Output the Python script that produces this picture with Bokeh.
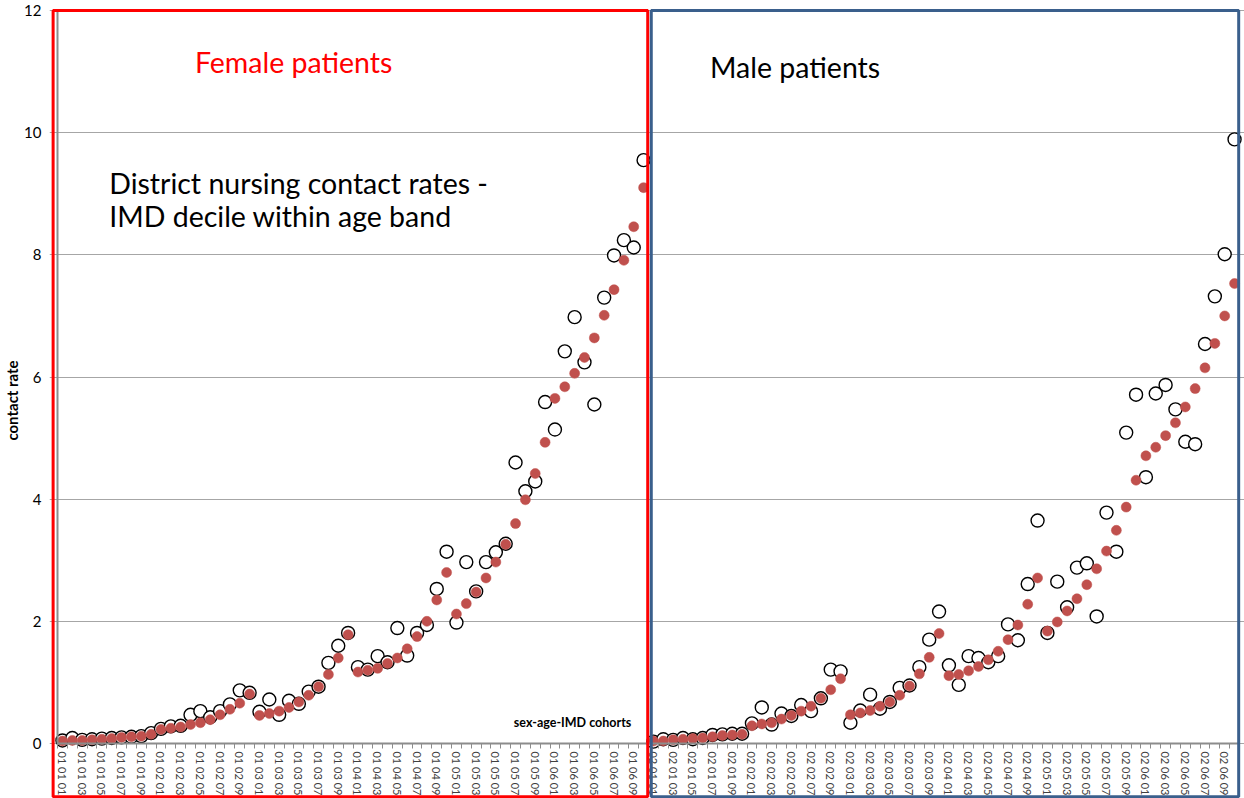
from bokeh.plotting import figure
from bokeh.models import (ColumnDataSource, FixedTicker, Label, BoxAnnotation, Range1d,
                          LinearAxis)
from bokeh.embed import file_html
from bokeh.resources import INLINE

# ---- data -------------------------------------------------------------
sexes = ["01", "02"]
age_bands = ["01", "02", "03", "04", "05", "06"]
deciles = ["01", "02", "03", "04", "05", "06", "07", "08", "09", "10"]
cohorts = [f"{s} {a} {d}" for s in sexes for a in age_bands for d in deciles]

observed_female = [
    0.05, 0.09, 0.06, 0.07, 0.08, 0.09, 0.10, 0.11, 0.12, 0.17,
    0.24, 0.28, 0.29, 0.47, 0.53, 0.43, 0.53, 0.64, 0.87, 0.83,
    0.52, 0.72, 0.47, 0.70, 0.65, 0.85, 0.93, 1.32, 1.60, 1.81,
    1.25, 1.21, 1.43, 1.33, 1.89, 1.44, 1.81, 1.94, 2.53, 3.14,
    1.98, 2.97, 2.49, 2.97, 3.13, 3.27, 4.60, 4.13, 4.29, 5.59,
    5.14, 6.42, 6.98, 6.24, 5.55, 7.30, 7.99, 8.24, 8.12, 9.55,
]
expected_female = [
    0.04, 0.05, 0.05, 0.06, 0.07, 0.08, 0.10, 0.11, 0.12, 0.15,
    0.23, 0.25, 0.27, 0.31, 0.34, 0.39, 0.47, 0.56, 0.66, 0.81,
    0.46, 0.49, 0.53, 0.59, 0.68, 0.79, 0.93, 1.13, 1.40, 1.78,
    1.17, 1.20, 1.23, 1.31, 1.40, 1.55, 1.75, 2.00, 2.35, 2.80,
    2.12, 2.29, 2.48, 2.71, 2.97, 3.26, 3.60, 3.99, 4.42, 4.93,
    5.65, 5.84, 6.06, 6.32, 6.64, 7.01, 7.43, 7.91, 8.46, 9.10,
]
observed_male = [
    0.03, 0.07, 0.06, 0.09, 0.07, 0.09, 0.14, 0.15, 0.16, 0.16,
    0.33, 0.59, 0.31, 0.49, 0.45, 0.63, 0.53, 0.74, 1.21, 1.18,
    0.34, 0.54, 0.80, 0.57, 0.68, 0.91, 0.95, 1.25, 1.70, 2.16,
    1.28, 0.96, 1.43, 1.40, 1.33, 1.43, 1.95, 1.69, 2.61, 3.65,
    1.81, 2.65, 2.23, 2.88, 2.95, 2.08, 3.78, 3.14, 5.09, 5.71,
    4.36, 5.73, 5.87, 5.47, 4.94, 4.90, 6.54, 7.32, 8.01, 9.89,
]
expected_male = [
    0.04, 0.04, 0.06, 0.07, 0.08, 0.09, 0.11, 0.13, 0.14, 0.15,
    0.29, 0.32, 0.34, 0.40, 0.46, 0.53, 0.61, 0.74, 0.88, 1.06,
    0.47, 0.50, 0.54, 0.61, 0.68, 0.79, 0.94, 1.14, 1.41, 1.80,
    1.11, 1.13, 1.19, 1.26, 1.37, 1.51, 1.70, 1.94, 2.28, 2.71,
    1.84, 1.99, 2.17, 2.37, 2.60, 2.86, 3.15, 3.49, 3.87, 4.31,
    4.71, 4.85, 5.04, 5.25, 5.51, 5.81, 6.15, 6.55, 7.00, 7.53,
]
y_ticks = [0, 2, 4, 6, 8, 10, 12]

observed = observed_female + observed_male
expected = expected_female + expected_male
idx = list(range(len(cohorts)))
n = len(cohorts)
source = ColumnDataSource(dict(x=idx, cohort=cohorts, observed=observed, expected=expected))

FONT = "Lato"

p = figure(
    width=1244, height=798,
    x_range=Range1d(-1.317, 120.01),
    y_range=Range1d(-0.9004, 12.131),
    output_backend="svg", toolbar_location=None,
    min_border_left=46, min_border_right=0, min_border_top=2, min_border_bottom=0,
)
p.outline_line_color = None
p.background_fill_color = "white"

# grid
p.xgrid.visible = False
p.ygrid.grid_line_color = "#a6a6a6"
p.ygrid.grid_line_width = 1

# y axis: tick labels and title in the left panel
yax = p.yaxis[0]
yax.bounds = (0, 12)
yax.ticker = FixedTicker(ticks=y_ticks)
yax.axis_line_color = None
yax.major_tick_out = 0
yax.major_tick_in = 0
yax.minor_tick_out = 0
yax.minor_tick_in = 0
yax.major_label_text_font = FONT
yax.major_label_text_font_size = "15px"
yax.major_label_text_color = "black"
yax.major_label_standoff = 8
yax.axis_label = "contact rate"
yax.axis_label_text_font = FONT
yax.axis_label_text_font_size = "15px"
yax.axis_label_text_font_style = "bold"
yax.axis_label_text_color = "black"
yax.axis_label_standoff = 0

# y axis line at the left edge of the first category
yline = LinearAxis(fixed_location=-0.5, bounds=(0, 12), ticker=FixedTicker(ticks=[]),
                   axis_line_color="#8c8c8c", axis_line_width=2,
                   major_tick_out=0, minor_tick_out=0, major_label_text_font_size="0px")
p.add_layout(yline, "left")

# x axis drawn at y = 0
xax = p.xaxis[0]
xax.fixed_location = 0
xax.bounds = (-0.5, n - 0.5)
label_ticks = [i for i in idx if int(cohorts[i][-2:]) % 2 == 1]
xax.ticker = FixedTicker(ticks=label_ticks, minor_ticks=[i - 0.5 for i in idx] + [n - 0.5])
xax.major_label_overrides = {i: cohorts[i] for i in label_ticks}
xax.major_label_orientation = "vertical"
xax.major_label_text_font = FONT
xax.major_label_text_font_size = "11px"
xax.major_label_text_color = "#404040"
xax.major_label_standoff = 3
xax.axis_line_color = "#8c8c8c"
xax.axis_line_width = 2
xax.major_tick_out = 0
xax.major_tick_in = 0
xax.minor_tick_out = 5
xax.minor_tick_in = 0
xax.minor_tick_line_color = "#8c8c8c"

# markers
p.scatter("x", "observed", source=source, marker="circle", size=13,
          fill_color="white", line_color="black", line_width=1.4)
p.scatter("x", "expected", source=source, marker="circle", size=10,
          fill_color="#c0504d", line_color="#c0504d", line_width=0.5)

# frames around female / male halves
p.add_layout(BoxAnnotation(left=-0.95, right=59.42, top=12, bottom=-0.87,
                           fill_color=None, fill_alpha=0, line_color="#ff0000",
                           line_alpha=1.0, line_width=3, level="overlay"))
p.add_layout(BoxAnnotation(left=59.78, right=119.42, top=12, bottom=-0.87,
                           fill_color=None, fill_alpha=0, line_color="#3a5f8c",
                           line_alpha=1.0, line_width=3, level="overlay"))

# texts
p.add_layout(Label(x=13.45, y=11.16, text="Female patients", text_font=FONT,
                   text_font_size="28.5px", text_color="#ff0000", text_baseline="middle"))
p.add_layout(Label(x=65.75, y=11.08, text="Male patients", text_font=FONT,
                   text_font_size="28.5px", text_color="black", text_baseline="middle"))
p.add_layout(Label(x=4.75, y=9.18, text="District nursing contact rates -", text_font=FONT,
                   text_font_size="28.5px", text_color="black", text_baseline="middle"))
p.add_layout(Label(x=4.75, y=8.64, text="IMD decile within age band", text_font=FONT,
                   text_font_size="28.5px", text_color="black", text_baseline="middle"))
p.add_layout(Label(x=57.75, y=0.34, text="sex-age-IMD cohorts", text_font=FONT,
                   text_font_size="12.5px", text_font_style="bold", text_color="black",
                   text_align="right", text_baseline="middle"))

open("out.html", "w").write(file_html(p, INLINE))
